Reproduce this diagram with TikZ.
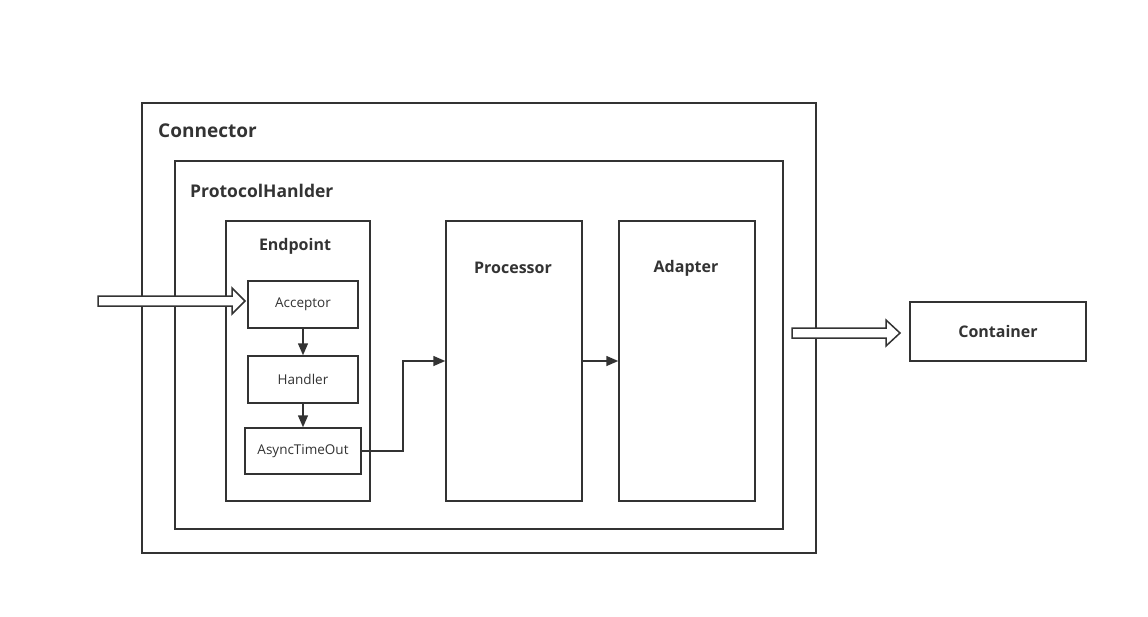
\documentclass[tikz,border=0pt]{standalone}
\usepackage{fontspec}
\setmainfont{Open Sans}
\usetikzlibrary{arrows.meta}
\definecolor{ink}{HTML}{333333}
\tikzset{
  box/.style={draw=ink, line width=1.5pt, fill=white},
  lbl/.style={text=ink, font=\bfseries\fontsize{16}{18}\selectfont, inner sep=0pt},
  small/.style={text=ink, font=\fontsize{13.5}{15}\selectfont, inner sep=0pt},
  conn/.style={draw=ink, line width=1.5pt, -{Triangle[length=12pt,width=10pt]}},
  hollow/.style={draw=ink, line width=1.5pt, fill=white, line join=miter}
}
\begin{document}
\begin{tikzpicture}[x=1pt,y=-1pt]
\useasboundingbox (0,0) rectangle (1148,616);
% outer boxes
\draw[box] (142,103) rectangle (816,553);
\node[lbl, anchor=west, font=\bfseries\fontsize{19}{21}\selectfont] (connlbl) at (158,131) {Connector};
\draw[box] (175,161) rectangle (783,529);
\node[lbl, anchor=west, font=\bfseries\fontsize{17.5}{20}\selectfont] (phlbl) at (190,191) {ProtocolHanlder};
% endpoint
\draw[box] (226,221) rectangle (370,501);
\node[lbl] (eplbl) at (295,246) {Endpoint};
\node[box, minimum width=110pt, minimum height=47pt, small] (acc) at (303,304.5) {Acceptor};
\node[box, minimum width=110pt, minimum height=47pt, small] (hnd) at (303,379.5) {Handler};
\node[box, minimum width=116pt, minimum height=46pt, small] (ato) at (303,451) {AsyncTimeOut};
% processor / adapter
\node[box, minimum width=136pt, minimum height=280pt] (proc) at (514,361) {};
\node[lbl] (proclbl) at (513,268) {Processor};
\node[box, minimum width=136pt, minimum height=280pt] (adap) at (687,361) {};
\node[lbl] (adaplbl) at (686,268) {Adapter};
% container
\node[box, minimum width=176pt, minimum height=59pt, lbl, inner sep=0pt] (cont) at (998,331.5) {Container};
% connectors
\draw[conn] (acc.south) -- (hnd.north);
\draw[conn] (hnd.south) -- (ato.north);
\coordinate (bend) at (403,361);
\draw[conn] (ato.east) -| (bend) -- (proc.west);
\draw[conn] (proc.east |- bend) -- (adap.west);
% hollow arrows
\draw[hollow] (98,296) -- (232,296) -- (232,288) -- (245,301) -- (232,314) -- (232,306) -- (98,306) -- cycle;
\draw[hollow] (792,328) -- (886,328) -- (886,320) -- (900,333) -- (886,346) -- (886,338) -- (792,338) -- cycle;
\end{tikzpicture}
\end{document}
